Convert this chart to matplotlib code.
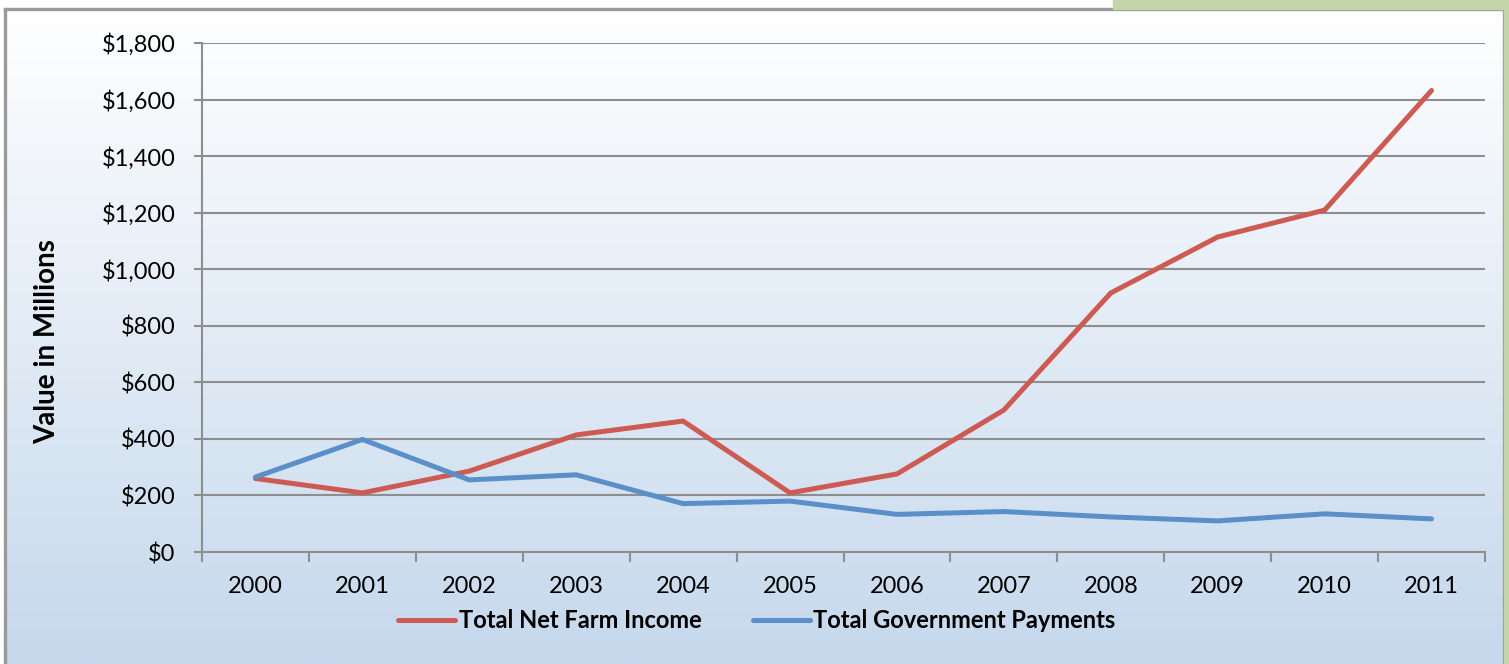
import numpy as np
import matplotlib.pyplot as plt
from matplotlib.patches import Rectangle
from matplotlib.ticker import FuncFormatter, MultipleLocator

years = ["2000", "2001", "2002", "2003", "2004", "2005",
         "2006", "2007", "2008", "2009", "2010", "2011"]
net_farm_income = [260, 209, 286, 414, 463, 209, 276, 502, 916, 1114, 1209, 1632]
gov_payments = [265, 398, 255, 273, 171, 180, 133, 143, 124, 110, 135, 117]

RED = "#CD5B53"
BLUE = "#5B8FC9"
GRID = "#8E8E8E"

plt.rcParams["font.family"] = ["Lato", "DejaVu Sans"]

W, H = 1509, 664
fig = plt.figure(figsize=(W / 100, H / 100), dpi=100)

# green tab in the top right corner behind the chart frame
fig.patches.append(Rectangle((1113 / W, 1 - 9 / H), 1 - 1113 / W, 9 / H,
                             transform=fig.transFigure, color="#C3D4A9", zorder=0))
fig.patches.append(Rectangle((1504 / W, 0), 1 - 1504 / W, 1,
                             transform=fig.transFigure, color="#C3D4A9", zorder=0))

# chart frame with white-to-blue vertical gradient
x0, x1 = 5 / W, 1504 / W
y_top = 1 - 9 / H
bg = fig.add_axes([x0, 0, x1 - x0, y_top], zorder=0)
grad = np.linspace(0, 1, 256).reshape(-1, 1)
top_c = np.array([1.0, 1.0, 1.0])
bot_c = np.array([0xC5, 0xD8, 0xEC]) / 255
img = top_c * (1 - grad[..., None]) + bot_c * grad[..., None]
bg.imshow(img, aspect="auto", extent=[0, 1, 0, 1])
bg.set_xlim(0, 1)
bg.set_ylim(0, 1)
bg.set_xticks([])
bg.set_yticks([])
bg.spines["bottom"].set_visible(False)
for side in ["left", "right", "top"]:
    bg.spines[side].set_color("#9A9A9A")
    bg.spines[side].set_linewidth(2.4)

ax = fig.add_axes([202 / W, 1 - 552 / H, 1283 / W, 509 / H], zorder=1)
ax.set_facecolor("none")

x = np.arange(len(years))
ax.plot(x, net_farm_income, color=RED, lw=3.6, solid_capstyle="round",
        solid_joinstyle="miter", label="Total Net Farm Income", zorder=3)
ax.plot(x, gov_payments, color=BLUE, lw=3.6, solid_capstyle="round",
        solid_joinstyle="miter", label="Total Government Payments", zorder=3)

ax.set_xlim(-0.5, len(years) - 0.5)
ax.set_ylim(0, 1800)
ax.yaxis.set_major_locator(MultipleLocator(200))
ax.yaxis.set_major_formatter(FuncFormatter(lambda v, p: f"${v:,.0f}"))
ax.grid(axis="y", color=GRID, lw=1.5, zorder=1)

ax.set_xticks(x)
ax.set_xticklabels(years)
ax.set_xticks(np.arange(len(years) + 1) - 0.5, minor=True)
ax.tick_params(axis="x", which="major", length=0, pad=17, labelsize=17)
ax.tick_params(axis="x", which="minor", length=7, width=1.5, color=GRID)
ax.tick_params(axis="y", length=6, width=1.5, color=GRID, pad=13, labelsize=17)

for side in ["top", "right"]:
    ax.spines[side].set_visible(False)
for side in ["left", "bottom"]:
    ax.spines[side].set_color(GRID)
    ax.spines[side].set_linewidth(1.5)

fig.text(47 / W, 1 - 342 / H, "Value in Millions", rotation=90, ha="center",
         va="center", fontsize=20, fontweight="bold")

fig.legend(loc="center", bbox_to_anchor=(757 / W, 1 - 621 / H), ncol=2,
           frameon=False, handlelength=2.4, handletextpad=0.15, columnspacing=2.2,
           prop={"weight": "bold", "size": 17})

fig.savefig("out.png", dpi=100)
